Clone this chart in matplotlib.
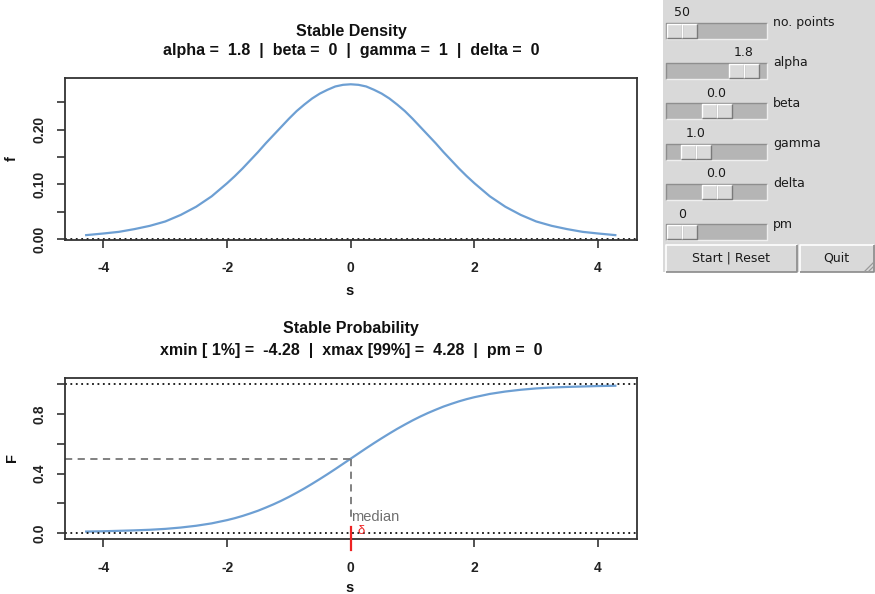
import numpy as np
import matplotlib as mpl
from matplotlib import pyplot as plt
from matplotlib.patches import Rectangle

W, H = 875, 594
DPI = 100

# stable distribution, alpha = 1.8, beta = 0, gamma = 1, delta = 0
s = [-4.28, -4.0, -3.75, -3.5, -3.25, -3.0, -2.75, -2.5, -2.25,
     -2.0, -1.875, -1.75, -1.625, -1.5, -1.375, -1.25, -1.125,
     -1.0, -0.875, -0.75, -0.625, -0.5, -0.375, -0.25, -0.125,
     0.0, 0.125, 0.25, 0.375, 0.5, 0.625, 0.75, 0.875,
     1.0, 1.125, 1.25, 1.375, 1.5, 1.625, 1.75, 1.875,
     2.0, 2.25, 2.5, 2.75, 3.0, 3.25, 3.5, 3.75, 4.0, 4.28]
dens = [0.007, 0.010, 0.013, 0.018, 0.024, 0.032, 0.044, 0.059, 0.078,
        0.102, 0.115, 0.129, 0.144, 0.159, 0.175, 0.190, 0.205,
        0.220, 0.234, 0.246, 0.257, 0.266, 0.273, 0.279, 0.282,
        0.283, 0.282, 0.279, 0.273, 0.266, 0.257, 0.246, 0.234,
        0.220, 0.205, 0.190, 0.175, 0.159, 0.144, 0.129, 0.115,
        0.102, 0.078, 0.059, 0.044, 0.032, 0.024, 0.018, 0.013, 0.010, 0.007]
prob = [0.010, 0.012, 0.015, 0.018, 0.022, 0.028, 0.037, 0.049, 0.065,
        0.087, 0.100, 0.115, 0.132, 0.150, 0.171, 0.193, 0.217,
        0.243, 0.271, 0.300, 0.331, 0.363, 0.396, 0.430, 0.465,
        0.500, 0.535, 0.570, 0.604, 0.637, 0.669, 0.700, 0.729,
        0.757, 0.783, 0.807, 0.829, 0.850, 0.868, 0.885, 0.900,
        0.913, 0.935, 0.951, 0.963, 0.972, 0.978, 0.982, 0.985, 0.988, 0.990]
median = 0.0
delta = 0.0

xticks = [-4, -2, 0, 2, 4]
f_ticks = [0.0, 0.05, 0.10, 0.15, 0.20, 0.25]
f_labels = ['0.00', '', '0.10', '', '0.20', '']
F_ticks = [0.0, 0.2, 0.4, 0.6, 0.8, 1.0]
F_labels = ['0.0', '', '0.4', '', '0.8', '']

# slider panel
slider_names = ['no. points', 'alpha', 'beta', 'gamma', 'delta', 'pm']
slider_text = ['50', '1.8', '0.0', '1.0', '0.0', '0']
slider_values = [50, 1.8, 0.0, 1.0, 0.0, 0]
slider_min = [50, 0.0, -1.0, 0.0, -5.0, 0]
slider_max = [1000, 2.0, 1.0, 5.0, 5.0, 2]
buttons = ['Start | Reset', 'Quit']

LINE = '#6d9fd3'
RFONT = 'Liberation Sans'
TKFONT = 'DejaVu Sans'


def fx(x):
    return x / W


def fy(y):
    return 1 - y / H


def box(left, top, right, bottom):
    return [fx(left), fy(bottom), (right - left) / W, (bottom - top) / H]


def style_axes(ax, yt, ylab):
    for sp in ax.spines.values():
        sp.set_color('#333333')
        sp.set_linewidth(1.3)
    ax.set_xticks(xticks)
    ax.set_xticklabels([str(t) for t in xticks])
    ax.set_yticks(yt)
    ax.set_yticklabels(ylab)
    ax.tick_params(length=5.5, width=1.2, color='#333333', pad=8,
                   labelsize=10, labelcolor='#222222')
    ax.tick_params(axis='x', pad=10)
    for lab in ax.get_xticklabels() + ax.get_yticklabels():
        lab.set_fontfamily(RFONT)
        lab.set_fontweight('bold')
    for lab in ax.get_yticklabels():
        lab.set_rotation(90)
        lab.set_va('center')


def bevel(ax, x0, y0, x1, y1, face, light, dark, lw=1.0):
    ax.add_patch(Rectangle((x0, y0), x1 - x0, y1 - y0, facecolor=face, edgecolor='none'))
    ax.plot([x0, x0, x1], [y1, y0, y0], color=light, lw=lw, solid_capstyle='butt')
    ax.plot([x0, x1, x1], [y1, y1, y0], color=dark, lw=lw, solid_capstyle='butt')


fig = plt.figure(figsize=(W / DPI, H / DPI), dpi=DPI)

# Tk slider window on the right
ui = fig.add_axes([0, 0, 1, 1])
ui.set_xlim(0, W)
ui.set_ylim(H, 0)
ui.axis('off')
ui.add_patch(Rectangle((663, 0), W - 663, 272, facecolor='#d9d9d9', edgecolor='none'))

tx0, tx1, knob_w = 666, 767, 30
for i, name in enumerate(slider_names):
    top = 22.5 + 40.35 * i
    bevel(ui, tx0, top, tx1, top + 16, '#b5b5b5', '#8e8e8e', '#efefef')
    frac = (slider_values[i] - slider_min[i]) / (slider_max[i] - slider_min[i])
    k0 = tx0 + 1 + frac * (tx1 - tx0 - 2 - knob_w)
    half = knob_w / 2
    bevel(ui, k0, top + 1, k0 + half, top + 15, '#dadada', '#ffffff', '#7a7a7a')
    bevel(ui, k0 + half, top + 1, k0 + knob_w, top + 15, '#dadada', '#ffffff', '#7a7a7a')
    ui.text(k0 + half, top - 10, slider_text[i], family=TKFONT, fontsize=9,
            color='#1a1a1a', ha='center', va='center')
    ui.text(773, top, name, family=TKFONT, fontsize=9, color='#1a1a1a',
            ha='left', va='center')

bx = [(666, 796.5), (800, 873.5)]
for (b0, b1), label in zip(bx, buttons):
    bevel(ui, b0, 245, b1, 271.5, '#d9d9d9', '#ffffff', '#8a8a8a', lw=1.2)
    ui.text((b0 + b1) / 2, 258, label, family=TKFONT, fontsize=9, color='#1a1a1a',
            ha='center', va='center')
for d in (4, 8):
    ui.plot([873 - d, 873], [271, 271 - d], color='#9a9a9a', lw=0.9)

xlim = (-4.6224, 4.6224)

# density
ax1 = fig.add_axes(box(65, 78, 636.5, 239.5))
ax1.plot(s, dens, color=LINE, lw=1.6)
ax1.axhline(0, color='#111111', lw=1.3, ls=(0, (1, 2)), dash_capstyle='butt')
ax1.set_xlim(*xlim)
ax1.set_ylim(-0.001, 0.2945)
style_axes(ax1, f_ticks, f_labels)

# probability
ax2 = fig.add_axes(box(65, 378.3, 636.5, 539))
ax2.plot(s, prob, color=LINE, lw=1.6)
ax2.axhline(0, color='#111111', lw=1.3, ls=(0, (1, 2)), dash_capstyle='butt')
ax2.axhline(1, color='#111111', lw=1.3, ls=(0, (1, 2)), dash_capstyle='butt')
ax2.plot([xlim[0], median], [0.5, 0.5], color='#777777', lw=1.3, ls=(0, (4, 3)))
ax2.plot([median, median], [0.5, 0.1], color='#777777', lw=1.3, ls=(0, (4, 3)))
ax2.plot([delta, delta], [0.044, -0.112], color='#ee2222', lw=1.6, clip_on=False, zorder=5)
ax2.text(median, 0.105, 'median', family=RFONT, fontsize=10.5, color='#707070',
         ha='left', va='center')
ax2.text(delta + 0.17, 0.012, 'δ', family=RFONT, fontsize=9.5, color='#ee2222',
         ha='center', va='center')
ax2.set_xlim(*xlim)
ax2.set_ylim(-0.04, 1.04)
style_axes(ax2, F_ticks, F_labels)

# titles and axis labels
tfont = dict(family=RFONT, fontsize=11.5, fontweight='bold', color='#111111',
             ha='center', va='center')
fig.text(fx(351), fy(31.5), 'Stable Density', **tfont)
fig.text(fx(351), fy(50.5), 'alpha =  1.8  |  beta =  0  |  gamma =  1  |  delta =  0', **tfont)
fig.text(fx(351), fy(329), 'Stable Probability', **tfont)
fig.text(fx(351), fy(350.5), 'xmin [ 1%] =  -4.28  |  xmax [99%] =  4.28  |  pm =  0', **tfont)

lfont = dict(family=RFONT, fontsize=10.5, fontweight='bold', color='#111111',
             ha='center', va='center')
fig.text(fx(350), fy(291), 's', **lfont)
fig.text(fx(350), fy(588), 's', **lfont)
fig.text(fx(12), fy(159), 'f', rotation=90, **lfont)
fig.text(fx(12), fy(458), 'F', rotation=90, **lfont)

fig.savefig('out.png', dpi=DPI, facecolor='white')
